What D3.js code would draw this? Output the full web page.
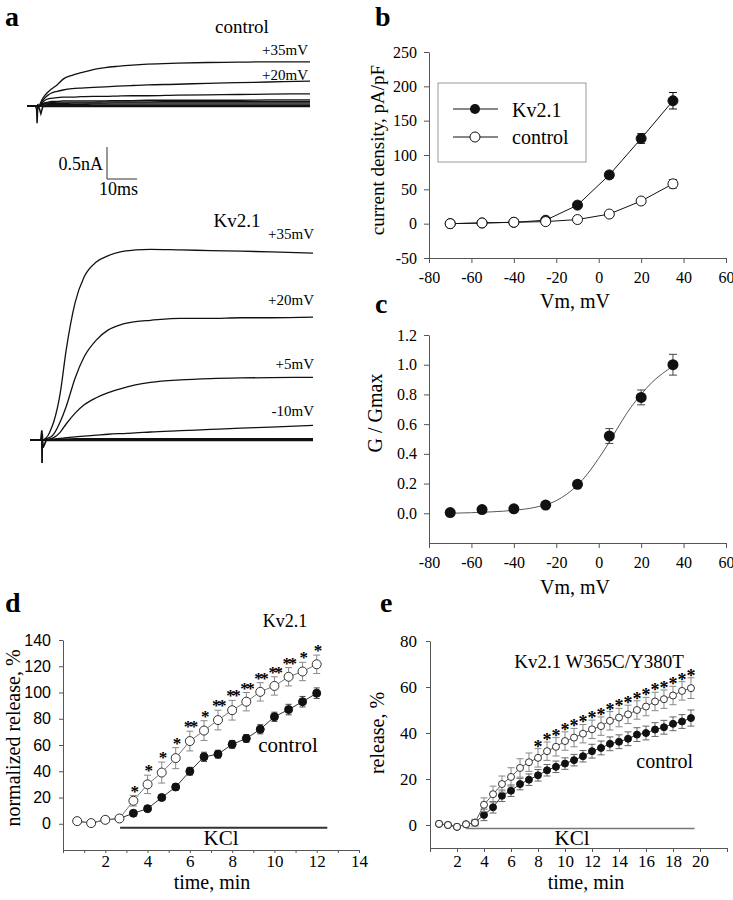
<!DOCTYPE html>
<html><head><meta charset="utf-8">
<script src="https://cdn.jsdelivr.net/npm/d3@7"></script>
<style>body{margin:0;background:#fff}</style>
</head><body><svg id="fig" width="733" height="900"></svg>
<script>
// ================= DATA =================
// Panel a: current traces (time in ms, current in nA)
const traceTime = [0,4,4.5,5,6,7,8,10,12,15,18,22,26,30,35,40,50,60,70,80,94];
const ctl35 = [0,0,0.05,0.1,0.17,0.22,0.26,0.33,0.42,0.48,0.52,0.57,0.6,0.62,0.64,0.655,0.67,0.68,0.685,0.69,0.69];
const ctl20 = [0,0,0.03,0.07,0.13,0.17,0.2,0.23,0.25,0.27,0.28,0.29,0.3,0.31,0.32,0.33,0.34,0.355,0.365,0.375,0.39];
const ctl5  = [0,0,0.02,0.05,0.09,0.11,0.12,0.13,0.14,0.14,0.145,0.15,0.15,0.155,0.16,0.16,0.17,0.175,0.18,0.185,0.19];
const ctlM10 = [0,0,0.01,0.03,0.05,0.06,0.07,0.07,0.08,0.08,0.08,0.08,0.08,0.085,0.085,0.09,0.09,0.09,0.09,0.095,0.095];
const ctlM25 = [0,0,0.01,0.02,0.04,0.05,0.055,0.06,0.06,0.06,0.06,0.06,0.065,0.065,0.065,0.065,0.07,0.07,0.07,0.07,0.07];
const ctlM40 = [0,0,0.01,0.02,0.03,0.035,0.04,0.04,0.04,0.045,0.045,0.045,0.045,0.05,0.05,0.05,0.05,0.05,0.05,0.05,0.05];
const ctlM55 = [0,0,0,0.01,0.015,0.02,0.02,0.025,0.025,0.025,0.025,0.03,0.03,0.03,0.03,0.03,0.03,0.03,0.03,0.03,0.03];
const ctlM70 = [0,0,0,0,0.005,0.01,0.01,0.01,0.01,0.01,0.01,0.01,0.01,0.01,0.01,0.01,0.01,0.01,0.01,0.01,0.01];
const ctlM85 = [0,0,0,-0.01,-0.01,-0.01,-0.01,-0.01,-0.01,-0.01,-0.01,-0.01,-0.01,-0.01,-0.01,-0.01,-0.01,-0.01,-0.01,-0.01,-0.01];
const kv35 = [0,0,0,0.02,0.07,0.17,0.3,0.72,1.4,2.15,2.55,2.78,2.88,2.94,2.97,2.98,2.97,2.96,2.95,2.94,2.92];
const kv20 = [0,0,0,0.01,0.03,0.05,0.1,0.28,0.52,0.97,1.3,1.56,1.72,1.8,1.85,1.87,1.9,1.9,1.91,1.91,1.92];
const kv5  = [0,0,0,0.005,0.01,0.02,0.04,0.12,0.25,0.42,0.55,0.66,0.74,0.8,0.86,0.9,0.94,0.96,0.97,0.975,0.98];
const kvM10 = [0,0,0,0,0.005,0.01,0.015,0.025,0.035,0.05,0.06,0.075,0.09,0.1,0.11,0.125,0.145,0.165,0.185,0.2,0.23];
const kvM25 = [0,0,0,0,0.005,0.01,0.01,0.015,0.015,0.02,0.02,0.02,0.02,0.02,0.02,0.02,0.02,0.02,0.02,0.02,0.02];
const kvM40 = [0,0,0,0,0,0.005,0.005,0.01,0.01,0.01,0.01,0.01,0.01,0.01,0.01,0.01,0.01,0.01,0.01,0.01,0.01];
const kvM55 = [0,0,0,0,0,0,0,0,0,0,0,0,0,0,0,0,0,0,0,0,0];
const kvM70 = [0,0,0,-0.005,-0.01,-0.01,-0.01,-0.01,-0.01,-0.01,-0.01,-0.01,-0.01,-0.01,-0.01,-0.01,-0.01,-0.01,-0.01,-0.01,-0.01];
const artTimeCtl = [2.8,3.2,3.35,3.6,4.1,4.6,5.3];
const artCtl = [0,-0.05,-0.27,0.03,-0.04,-0.12,0];
const artTimeKv = [3.6,3.95,4.0,4.05,4.3,4.8,5.4];
const artKv = [0,0.15,-0.36,0.1,-0.12,-0.07,0];
const scaleBarMs = 10, scaleBarNA = 0.5;
const ctlLabels = ["+35mV","+20mV"];
const kvLabels = ["+35mV","+20mV","+5mV","-10mV"];

// Panel b / c: voltage steps
const vm = [-70,-55,-40,-25,-10,5,20,35];
const kvDensity = [0,1,2,5,27,71,124,179];
const kvDensityErr = [0,0,0,1,3,5,7,12];
const ctlDensity = [0,1,2,3,6,14,33,58];
const ctlDensityErr = [0,0,0,0,1,2,3,6];
const gNorm = [0.005,0.025,0.03,0.055,0.195,0.52,0.78,1.0];
const gNormErr = [0,0,0,0,0.01,0.05,0.05,0.07];
const fitVm = [-70,-60,-50,-40,-30,-20,-10,-5,0,5,10,15,20,25,30,35];
const fitG  = [0.0,0.004,0.01,0.02,0.04,0.085,0.19,0.27,0.37,0.48,0.6,0.71,0.8,0.88,0.94,0.99];
const vmTicks = [-80,-60,-40,-20,0,20,40,60];
const densityTicks = [-50,0,50,100,150,200,250];
const gTicks = [0,0.2,0.4,0.6,0.8,1.0,1.2];

// Panel d: normalized release vs time
const timeD = [0.67,1.33,2,2.67,3.33,4,4.67,5.33,6,6.67,7.33,8,8.67,9.33,10,10.67,11.33,12];
const kvReleaseD = [2,0.5,3,4,17.5,30,39,50,63,71,79,86.5,93,100.5,105,112,116,121.5];
const kvReleaseDErr = [0,0,0,0,4,7,8,8,7.5,7.5,7.5,7.5,7,7,7,7,7,7];
const ctlReleaseD = [2,0.5,3,4,8,11.5,20,28,40,51,53,60.5,65,72,81.5,87,93,99.5];
const ctlReleaseDErr = [0,0,0,0,2,2,2,2.5,3,3.5,3,3,3,3.5,3.5,4,4,4];
const starsD = ["","","","","*","*","*","*","**","*","**","**","**","**","**","**","*","*"];
const kclD = [2.7,12.5];
const ticksDy = [0,20,40,60,80,100,120,140];

// Panel e: release vs time
const timeE = [0.67,1.33,2,2.67,3.33,4,4.67,5.33,6,6.67,7.33,8,8.67,9.33,10,10.67,11.33,12,12.67,13.33,14,14.67,15.33,16,16.67,17.33,18,18.67,19.33];
const kvReleaseE = [0.5,0,-0.8,0.3,1,8.8,13.4,17.8,20.9,24.8,27.3,29.2,32.1,34,36.5,38,39.7,41.6,43,45.3,46.7,48.1,50,51.5,53.7,54.7,56.3,58.3,59.5];
const kvReleaseEErr = [0,0,0,0,1.5,3,3.5,3.5,4,4,4,4,4,4,4,4,4,4,4,4,4,4,4,4,4,4,4,4,4.5];
const ctlReleaseE = [0.5,0,-0.8,0.3,1,4.4,7.7,12.7,14.9,17.8,19.7,21.6,23.8,25.3,26.7,28.2,29.9,32.1,33.5,35.3,36.2,37.5,39.3,40,41.5,42.5,44,45,46.5];
const ctlReleaseEErr = [0,0,0,0,1,2.5,2.5,2.5,2.5,2.5,2.5,2.5,2.5,2.5,2.5,2.5,2.5,3,3,3,3,3,3,3,3,3,3,3,3.5];
const starsE = ["","","","","","","","","","","","*","*","*","*","*","*","*","*","*","*","*","*","*","*","*","*","*","*"];
const kclE = [2.7,19.6];
const ticksEy = [0,20,40,60,80];

// ================= DRAWING =================
const SERIF = "'Liberation Serif','Times New Roman',serif";
const SANS = "'Liberation Sans',Arial,sans-serif";
const AX = "#555";
const svg = d3.select("#fig");
svg.append("rect").attr("width",733).attr("height",900).attr("fill","#fff");
const hyph = f => d => f(d).replace("\u2212","-");

function txt(x,y,s,opt={}) {
  const t = svg.append("text").attr("x",x).attr("y",y).text(s)
    .attr("font-family",opt.family||SERIF).attr("font-size",opt.size||16)
    .attr("text-anchor",opt.anchor||"start").attr("fill","#000");
  if (opt.weight) t.attr("font-weight",opt.weight);
  if (opt.rotate) t.attr("transform",`rotate(-90,${x},${y})`);
  return t;
}
function styleAxis(g,size,family) {
  g.attr("font-family",family||SERIF);
  g.select(".domain").attr("stroke",AX).attr("stroke-width",1);
  g.selectAll(".tick line").attr("stroke",AX);
  g.selectAll(".tick text").attr("font-family",family||SERIF).attr("font-size",size).attr("fill","#000");
}

// panel letters
txt(5,26,"a",{size:28,weight:"bold"});
txt(375,26,"b",{size:28,weight:"bold"});
txt(375,313,"c",{size:28,weight:"bold"});
txt(5,612,"d",{size:28,weight:"bold"});
txt(380,612,"e",{size:28,weight:"bold"});

// ---------- Panel a ----------
const xCtl = d3.scaleLinear().domain([0,94]).range([27,310]);
const yCtl = d3.scaleLinear().domain([0,1]).range([106,42]);
const xKv = d3.scaleLinear().domain([0,94]).range([30,313]);
const yKv = d3.scaleLinear().domain([0,1]).range([440,376]);
const ctlTraces = [ctlM85,ctlM70,ctlM55,ctlM40,ctlM25,ctlM10,ctl5,ctl20,ctl35];
const kvTraces = [kvM70,kvM55,kvM40,kvM25,kvM10,kv5,kv20,kv35];
function drawTraces(traces,xs,ys) {
  const ln = d3.line().x((d,i)=>xs(traceTime[i])).y(d=>ys(d)).curve(d3.curveMonotoneX);
  traces.forEach(tr=>{
    svg.append("path").attr("d",ln(tr)).attr("fill","none").attr("stroke","#111").attr("stroke-width",1.3);
  });
}
drawTraces(ctlTraces,xCtl,yCtl);
drawTraces(kvTraces,xKv,yKv);
svg.append("path").attr("d",d3.line().x((d,i)=>xCtl(artTimeCtl[i])).y(d=>yCtl(d))(artCtl))
  .attr("fill","none").attr("stroke","#111").attr("stroke-width",1.5);
svg.append("path").attr("d",d3.line().x((d,i)=>xKv(artTimeKv[i])).y(d=>yKv(d))(artKv))
  .attr("fill","none").attr("stroke","#111").attr("stroke-width",1.8);
// scale bar
const sbX0 = 107, sbY0 = 179;
const sbW = xCtl(scaleBarMs)-xCtl(0), sbH = yCtl(0)-yCtl(scaleBarNA);
svg.append("path").attr("d",`M${sbX0},${sbY0-sbH}V${sbY0}H${sbX0+sbW}`).attr("fill","none").attr("stroke","#333").attr("stroke-width",1);
txt(103,170,"0.5nA",{size:18,anchor:"end"});
txt(99,195,"10ms",{size:18});
txt(242,33,"control",{size:19,anchor:"middle"});
txt(308,55,ctlLabels[0],{size:15,anchor:"end"});
txt(308,80,ctlLabels[1],{size:15,anchor:"end"});
txt(237,227,"Kv2.1",{size:19,anchor:"middle"});
const kvLabelY = [239,305,369,416];
kvLabels.forEach((s,i)=>txt(314,kvLabelY[i],s,{size:15,anchor:"end"}));

// ---------- Panel b ----------
const xB = d3.scaleLinear().domain([-80,60]).range([429,726]);
const yB = d3.scaleLinear().domain([-50,250]).range([258,52]);
let g = svg.append("g").attr("transform","translate(0,258)")
  .call(d3.axisBottom(xB).tickValues(vmTicks).tickFormat(hyph(d3.format("d"))).tickSize(5).tickSizeOuter(0).tickPadding(9));
styleAxis(g,16);
g = svg.append("g").attr("transform","translate(429,0)")
  .call(d3.axisLeft(yB).tickValues(densityTicks).tickFormat(hyph(d3.format("d"))).tickSize(5).tickSizeOuter(0).tickPadding(7));
styleAxis(g,16);
function errBars(xs,ys,xv,yv,ev,cap,color,width) {
  xv.forEach((x,i)=>{
    if(!ev[i]) return;
    const px=xs(x), y1=ys(yv[i]-ev[i]), y2=ys(yv[i]+ev[i]);
    svg.append("path").attr("d",`M${px},${y1}V${y2}M${px-cap},${y1}H${px+cap}M${px-cap},${y2}H${px+cap}`)
      .attr("stroke",color).attr("stroke-width",width||1).attr("fill","none");
  });
}
function series(xs,ys,xv,yv,opt) {
  const ln = d3.line().x((d,i)=>xs(xv[i])).y(d=>ys(d));
  svg.append("path").attr("d",ln(yv)).attr("fill","none").attr("stroke",opt.line).attr("stroke-width",opt.lw||1);
  if (opt.err) errBars(xs,ys,xv,yv,opt.err,opt.cap||4,opt.errColor||opt.line,opt.ew||1);
  xv.forEach((x,i)=>{
    svg.append("circle").attr("cx",xs(x)).attr("cy",ys(yv[i])).attr("r",opt.r)
      .attr("fill",opt.open?"#fff":"#111").attr("stroke",opt.stroke||"#111").attr("stroke-width",opt.sw||1);
  });
}
series(xB,yB,vm,kvDensity,{line:"#111",r:5,err:kvDensityErr,cap:4});
series(xB,yB,vm,ctlDensity,{line:"#111",r:5,open:true,err:ctlDensityErr,cap:4});
// legend
svg.append("rect").attr("x",438).attr("y",83).attr("width",148).attr("height",79).attr("fill","#fff").attr("stroke","#999");
svg.append("line").attr("x1",453).attr("x2",498).attr("y1",109).attr("y2",109).attr("stroke","#111");
svg.append("circle").attr("cx",475).attr("cy",109).attr("r",5).attr("fill","#111");
svg.append("line").attr("x1",453).attr("x2",498).attr("y1",137).attr("y2",137).attr("stroke","#111");
svg.append("circle").attr("cx",475).attr("cy",137).attr("r",5).attr("fill","#fff").attr("stroke","#111");
txt(512,117,"Kv2.1",{size:20});
txt(512,144,"control",{size:20});
txt(384,150,"current density, pA/pF",{size:19,anchor:"middle",rotate:true});
txt(575,308,"Vm, mV",{size:20,anchor:"middle"});

// ---------- Panel c ----------
const xC = d3.scaleLinear().domain([-80,60]).range([429,726]);
const yC = d3.scaleLinear().domain([-0.2,1.2]).range([543,335]);
g = svg.append("g").attr("transform","translate(0,543)")
  .call(d3.axisBottom(xC).tickValues(vmTicks).tickFormat(hyph(d3.format("d"))).tickSize(5).tickSizeOuter(0).tickPadding(9));
styleAxis(g,16);
g = svg.append("g").attr("transform","translate(429,0)")
  .call(d3.axisLeft(yC).tickValues(gTicks).tickFormat(d3.format(".1f")).tickSize(5).tickSizeOuter(0).tickPadding(7));
styleAxis(g,16);
svg.append("path").attr("d",d3.line().x((d,i)=>xC(fitVm[i])).y(d=>yC(d)).curve(d3.curveMonotoneX)(fitG))
  .attr("fill","none").attr("stroke","#444").attr("stroke-width",0.9);
errBars(xC,yC,vm,gNorm,gNormErr,4,"#444",1);
vm.forEach((v,i)=>svg.append("circle").attr("cx",xC(v)).attr("cy",yC(gNorm[i])).attr("r",5.5).attr("fill","#111"));
txt(382,413,"G / Gmax",{size:20,anchor:"middle",rotate:true});
txt(575,594,"Vm, mV",{size:20,anchor:"middle"});

// ---------- Panel d ----------
const xD = d3.scaleLinear().domain([0,14]).range([63,359]);
const yD = d3.scaleLinear().domain([-20,140]).range([850,640]);
g = svg.append("g").attr("transform","translate(0,850)")
  .call(d3.axisBottom(xD).tickValues(d3.range(0,15)).tickFormat(d=>(d%2===0&&d>0)?d:"").tickSize(3).tickSizeOuter(0).tickPadding(2));
styleAxis(g,17);
g = svg.append("g").attr("transform","translate(63,0)")
  .call(d3.axisLeft(yD).tickValues(ticksDy).tickSize(4).tickSizeOuter(0).tickPadding(8));
styleAxis(g,16,SANS);
svg.append("line").attr("x1",xD(kclD[0])).attr("x2",xD(kclD[1])).attr("y1",yD(-3)).attr("y2",yD(-3)).attr("stroke","#333").attr("stroke-width",2);
series(xD,yD,timeD,ctlReleaseD,{line:"#333",r:4,err:ctlReleaseDErr,cap:3,errColor:"#444"});
series(xD,yD,timeD,kvReleaseD,{line:"#777",r:4.5,open:true,stroke:"#333",err:kvReleaseDErr,cap:3.5,errColor:"#888"});
timeD.forEach((t,i)=>{
  if(!starsD[i]) return;
  txt(xD(t),yD(kvReleaseD[i]+kvReleaseDErr[i])+1,starsD[i],{size:17,anchor:"middle",weight:"bold"}).attr("letter-spacing",-2.5);
});
txt(285,627,"Kv2.1",{size:18,anchor:"middle"});
txt(288,752,"control",{size:21,anchor:"middle"});
txt(221,845,"KCl",{size:21,anchor:"middle"});
txt(20,738,"normalized release, %",{size:20,anchor:"middle",rotate:true});
txt(212,889,"time, min",{size:20,anchor:"middle"});

// ---------- Panel e ----------
const xE = d3.scaleLinear().domain([0,22]).range([430,727]);
const yE = d3.scaleLinear().domain([-10,80]).range([848,641]);
g = svg.append("g").attr("transform","translate(0,848)")
  .call(d3.axisBottom(xE).tickValues(d3.range(0,23,2)).tickFormat(d=>(d>0&&d<22)?d:"").tickSize(4).tickSizeOuter(0).tickPadding(3));
styleAxis(g,17);
g = svg.append("g").attr("transform","translate(430,0)")
  .call(d3.axisLeft(yE).tickValues(ticksEy).tickSize(4).tickSizeOuter(0).tickPadding(9));
styleAxis(g,17);
svg.append("line").attr("x1",xE(kclE[0])).attr("x2",xE(kclE[1])).attr("y1",yE(-1.5)).attr("y2",yE(-1.5)).attr("stroke","#777").attr("stroke-width",1.5);
series(xE,yE,timeE,ctlReleaseE,{line:"#333",r:3.5,err:ctlReleaseEErr,cap:3.5,errColor:"#666"});
series(xE,yE,timeE,kvReleaseE,{line:"#555",r:3.5,open:true,stroke:"#333",err:kvReleaseEErr,cap:3.5,errColor:"#888"});
timeE.forEach((t,i)=>{
  if(!starsE[i]) return;
  txt(xE(t),yE(kvReleaseE[i]+kvReleaseEErr[i])+4,starsE[i],{size:18,anchor:"middle",weight:"bold"});
});
txt(599,668,"Kv2.1 W365C/Y380T",{size:19,anchor:"middle"});
txt(693,768,"control",{size:20,anchor:"end"});
txt(572,845,"KCl",{size:21,anchor:"middle"});
txt(384,733,"release, %",{size:20,anchor:"middle",rotate:true});
txt(586,889,"time, min",{size:20,anchor:"middle"});
</script></body></html>
